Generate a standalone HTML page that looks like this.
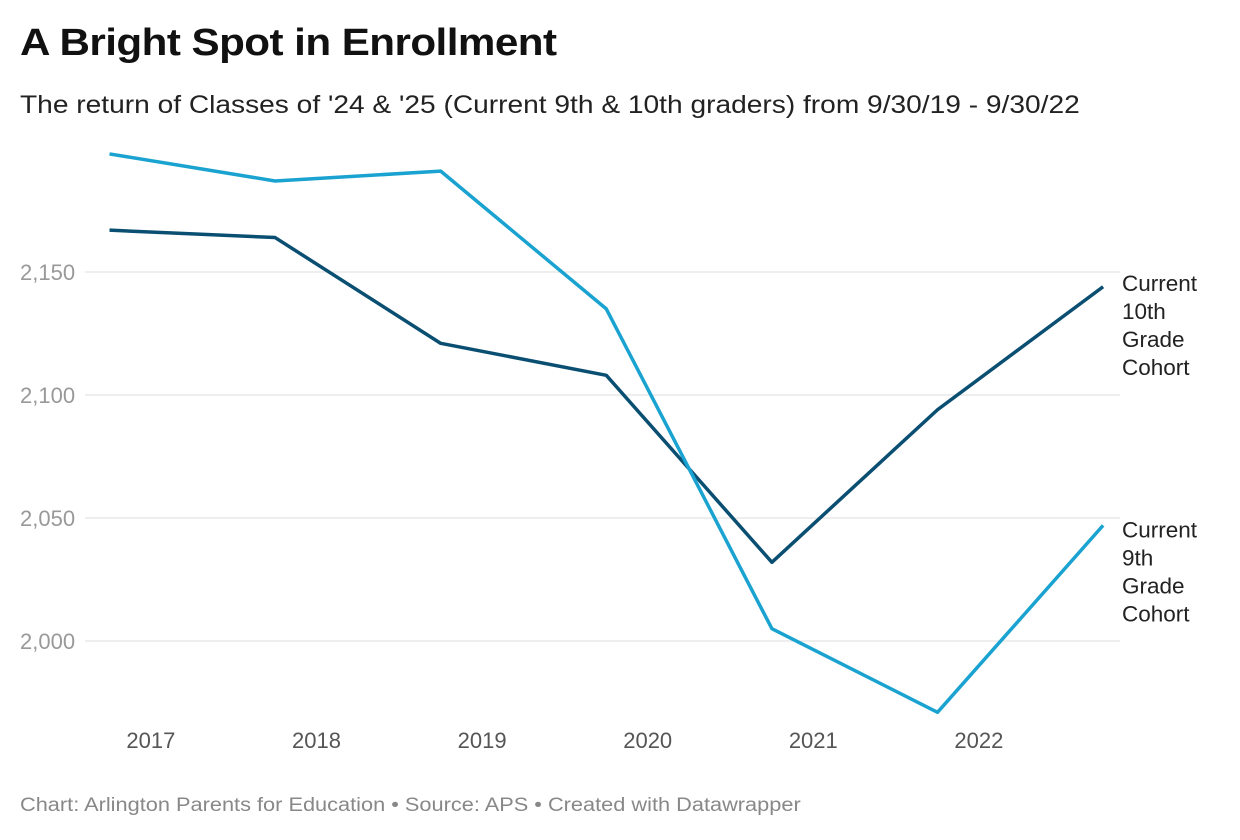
<!DOCTYPE html>
<html><head><meta charset="utf-8"><style>
body{margin:0;background:#fff;font-family:"Liberation Sans",Arial,sans-serif;}
#wrap{position:relative;width:1240px;height:840px;overflow:hidden;}
h1{position:absolute;left:20px;top:22px;margin:0;font-size:38px;font-weight:bold;color:#111;letter-spacing:-0.5px;transform:scaleX(1.11);transform-origin:left;white-space:nowrap}
.sub{position:absolute;left:20px;top:91px;font-size:25px;color:#222;transform:scaleX(1.125);transform-origin:left;white-space:nowrap}
.foot{position:absolute;left:20px;top:795px;font-size:19px;color:#888;transform:scaleX(1.145);transform-origin:left;white-space:nowrap}
</style></head><body>
<div id="wrap">
<h1>A Bright Spot in Enrollment</h1>
<div class="sub">The return of Classes of '24 &amp; '25 (Current 9th &amp; 10th graders) from 9/30/19 - 9/30/22</div>
<svg id="chart" width="1240" height="840" style="position:absolute;left:0;top:0"></svg>
<div class="foot">Chart: Arlington Parents for Education • Source: APS • Created with Datawrapper</div>
</div>
<script>
const dates=[2016.75,2017.75,2018.75,2019.75,2020.75,2021.75,2022.75];
const tenth=[2167,2164,2121,2108,2032,2094,2144];
const ninth=[2198,2187,2191,2135,2005,1971,2047];
const yTicks=[2000,2050,2100,2150];
const xTicks=[2017,2018,2019,2020,2021,2022];
const NS="http://www.w3.org/2000/svg";
const svg=document.getElementById('chart');
const x=d=>109.5+(d-2016.75)*165.6;
const y=v=>641-(v-2000)*2.46;
function mk(t,a){const e=document.createElementNS(NS,t);for(const k in a)e.setAttribute(k,a[k]);svg.appendChild(e);return e;}
yTicks.forEach(v=>{
 const l=mk('line',{x1:85,x2:1120,y1:y(v),y2:y(v),stroke:'#ddd','stroke-width':1});
 
 
 const t=mk('text',{x:20,y:y(v)+8,'font-size':22,fill:'#999','font-family':'Liberation Sans, sans-serif'});
 t.textContent=v.toLocaleString('en-US');
 
 
});
xTicks.forEach(v=>{
 const t=mk('text',{x:x(v),y:748,'font-size':22,fill:'#555','text-anchor':'middle','font-family':'Liberation Sans, sans-serif'});
 t.textContent=v;
 
 
});
function line(vals,color,name){
 const p=mk('polyline',{points:vals.map((v,i)=>x(dates[i])+','+y(v)).join(' '),fill:'none',stroke:color,'stroke-width':3.5,'stroke-linejoin':'round'});
 
 
}
line(tenth,'#0a4f72','line-10th-grade');
line(ninth,'#1aa3d0','line-9th-grade');
function label(lines,top,name){
 lines.forEach((s,i)=>{
  const t=mk('text',{x:1122,y:top+i*28,'font-size':22.5,fill:'#222','font-family':'Liberation Sans, sans-serif'});
  t.textContent=s;
  
  
 });
}
label(['Current','10th','Grade','Cohort'],y(tenth[6])+4,'label-10th-grade');
label(['Current','9th','Grade','Cohort'],y(ninth[6])+12,'label-9th-grade');
</script>
</body></html>
